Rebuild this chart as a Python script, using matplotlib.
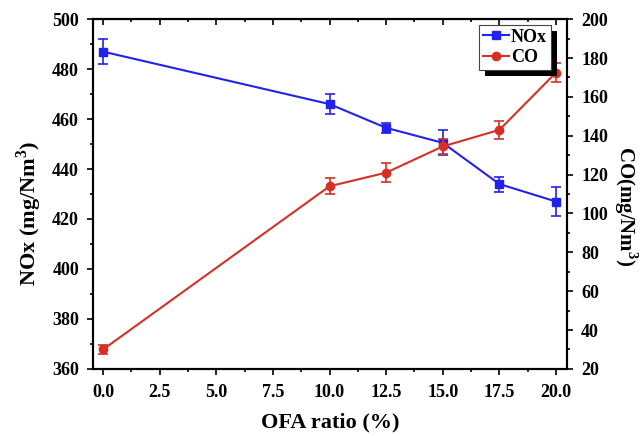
import numpy as np
import matplotlib as mpl
mpl.use("Agg")
import matplotlib.pyplot as plt
from matplotlib.ticker import MultipleLocator, FormatStrFormatter
from matplotlib.lines import Line2D
from matplotlib.patches import Rectangle

mpl.rcParams.update({
    'font.family': 'serif',
    'font.serif': ['Liberation Serif', 'DejaVu Serif'],
    'font.weight': 'bold',
    'mathtext.fontset': 'custom',
    'mathtext.rm': 'Liberation Serif:bold',
    'mathtext.bf': 'Liberation Serif:bold',
})

ofa = [0.0, 10.0, 12.5, 15.0, 17.5, 20.0]
nox = [487, 466, 456.5, 450.5, 434, 427]
nox_err = [5, 4, 2, 5, 3, 6]
co = [30, 114, 121, 134.5, 143, 172.5]
co_err = [2.5, 4, 5, 4, 4.5, 5]

blue = '#2222ee'
red = '#d63024'

fig = plt.figure(figsize=(6.41, 4.36), dpi=100)
ax = fig.add_axes([0.145, 0.154, 0.74, 0.802])
ax2 = ax.twinx()

ax.errorbar(ofa, nox, yerr=nox_err, color=blue, marker='s', ms=6,
            lw=1.5, capsize=3.5, elinewidth=1.2, capthick=1.2)
ax2.errorbar(ofa, co, yerr=co_err, color=red, marker='o', ms=6,
             lw=1.5, capsize=3.5, elinewidth=1.2, capthick=1.2)

ax.set_xlim(-0.45, 20.5)
ax.set_ylim(360, 500)
ax2.set_ylim(20, 200)

ax.xaxis.set_major_locator(MultipleLocator(2.5))
ax.xaxis.set_minor_locator(MultipleLocator(1.25))
ax.yaxis.set_major_locator(MultipleLocator(20))
ax.yaxis.set_minor_locator(MultipleLocator(10))
ax2.yaxis.set_major_locator(MultipleLocator(20))
ax2.yaxis.set_minor_locator(MultipleLocator(10))
ax.xaxis.set_major_formatter(FormatStrFormatter('%.1f'))

for a in (ax, ax2):
    a.tick_params(which='both', direction='out', labelsize=13, width=1.2)
    a.tick_params(which='major', length=4)
    a.tick_params(which='minor', length=2.5)
    for s in a.spines.values():
        s.set_linewidth(1.5)
ax.tick_params(axis='y', pad=6)
ax2.tick_params(axis='y', pad=6)
ax.tick_params(axis='x', pad=7)

# top ticks point inward
top = ax.secondary_xaxis('top')
top.xaxis.set_major_locator(MultipleLocator(2.5))
top.xaxis.set_minor_locator(MultipleLocator(1.25))
top.tick_params(which='both', direction='in', labeltop=False, width=1.2)
top.tick_params(which='major', length=4)
top.tick_params(which='minor', length=2.5)

ax.set_xlabel('OFA ratio (%)', fontsize=16, fontweight='bold', labelpad=8)
ax.set_ylabel(r'NOx (mg/Nm$^3$)', fontsize=16, fontweight='bold')
ax.yaxis.set_label_coords(-0.104, 0.445)
ax2.set_ylabel(r'CO(mg/Nm$^3$)', fontsize=15, fontweight='bold', rotation=270)
ax2.yaxis.set_label_coords(1.153, 0.465)

handles = [Line2D([], [], color=blue, marker='s', ms=6, lw=1.5),
           Line2D([], [], color=red, marker='o', ms=6, lw=1.5)]
leg = ax2.legend(handles, ['NOx', 'CO'], loc='upper right',
                 bbox_to_anchor=(0.965, 0.983), fancybox=False,
                 edgecolor='#444444', framealpha=1,
                 prop={'size': 13, 'weight': 'bold'},
                 handlelength=1.45, handletextpad=0.1, borderpad=0.2,
                 borderaxespad=0, labelspacing=0.2)
leg.get_frame().set_linewidth(0.8)
leg.set_zorder(10)

# black offset shadow behind legend
fig.canvas.draw()
bb = leg.get_window_extent()
shadow = Rectangle((bb.x0 + 6, bb.y0 - 6), bb.width, bb.height,
                   transform=None, facecolor='black', edgecolor='none',
                   zorder=9, clip_on=False)
ax2.add_artist(shadow)

fig.savefig('out.png', dpi=100)
